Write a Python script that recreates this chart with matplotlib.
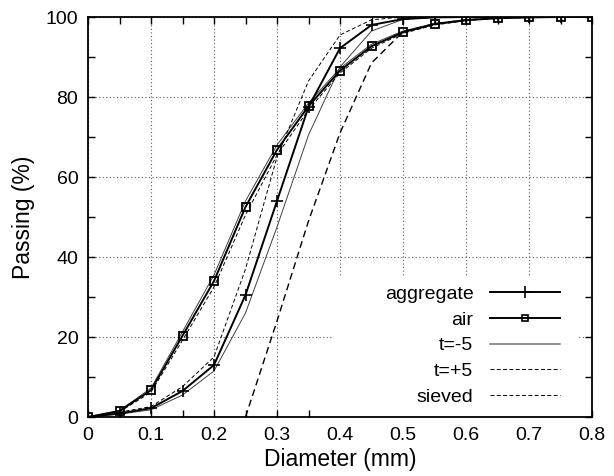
import matplotlib
matplotlib.use("Agg")
import matplotlib.pyplot as plt
from matplotlib.patches import Rectangle
from matplotlib.ticker import MultipleLocator

plt.rcParams['font.family'] = ['Liberation Sans', 'DejaVu Sans']

# ---- data ----
d_full = [0, 0.05, 0.1, 0.15, 0.2, 0.25, 0.3, 0.35, 0.4, 0.45, 0.5, 0.55, 0.6, 0.65, 0.7, 0.75, 0.8]
aggregate = [0, 0.9, 2.2, 6.5, 13, 30.5, 54, 77.5, 92.2, 98, 99.5, 99.9, 100, 100, 100, 100, 100]
air = [0, 1.5, 6.7, 20.3, 34, 52.5, 66.8, 77.7, 86.6, 92.7, 96.2, 98.2, 99.2, 99.7, 99.9, 100, 100]

agg_tm5 = [0, 0.7, 1.8, 5.5, 11.5, 26, 47.5, 70.5, 87.5, 96.5, 99.4, 99.9, 100, 100, 100, 100, 100]
agg_tp5 = [0, 1.2, 2.6, 7.6, 15, 37, 65, 84, 95.5, 99.3, 100, 100, 100, 100, 100, 100, 100]
air_tm5 = [0, 1.6, 7.2, 21.3, 35.5, 54, 68, 78.5, 87.2, 93.2, 96.5, 98.4, 99.3, 99.8, 99.9, 100, 100]
air_tp5 = [0, 1.3, 6.2, 19.2, 32.5, 50.5, 65.5, 76.8, 86.0, 92.2, 95.9, 98.0, 99.1, 99.7, 99.9, 100, 100]

d_sieved = [0.25, 0.3, 0.35, 0.4, 0.45, 0.5, 0.55, 0.6, 0.65, 0.7, 0.75, 0.8]
sieved = [0, 24, 49, 71, 88.5, 96.3, 98.3, 99.3, 99.7, 99.9, 100, 100]

x_ticks = [0, 0.1, 0.2, 0.3, 0.4, 0.5, 0.6, 0.7, 0.8]
x_ticklabels = ["0", "0.1", "0.2", "0.3", "0.4", "0.5", "0.6", "0.7", "0.8"]
y_ticks = [0, 20, 40, 60, 80, 100]

fig = plt.figure(figsize=(6.14, 4.76), dpi=100)
ax = fig.add_axes([88/614, 1-417/476, (592-88)/614, (417-17)/476])

ax.set_axisbelow(True)
ax.grid(True, which='major', linestyle=(0, (1, 2.2)), color='0.35', linewidth=0.8)

# white key box hiding the grid under the legend
ax.add_patch(Rectangle((0.389/0.8, 0.0), (0.776-0.389)/0.8, 0.352, transform=ax.transAxes,
                       facecolor='white', edgecolor='none', zorder=1))

thick = 1.4
thin = 0.7
ax.plot(d_full, agg_tm5, color='0.25', lw=thin, zorder=2)
ax.plot(d_full, air_tm5, color='0.25', lw=thin, zorder=2)
ax.plot(d_full, agg_tp5, color='black', lw=thin, ls=(0, (4, 2.5)), zorder=2)
ax.plot(d_full, air_tp5, color='black', lw=thin, ls=(0, (4, 2.5)), zorder=2)
ax.plot(d_sieved, sieved, color='black', lw=1.0, ls=(0, (5, 3)), zorder=2)
ax.plot(d_full, aggregate, color='black', lw=thick, marker='+', ms=8, mew=1.2, zorder=3)
ax.plot(d_full, air, color='black', lw=thick, marker='s', ms=5.5, mew=1.3,
        mfc='none', mec='black', zorder=3)

# legend handles
h1, = ax.plot([], [], color='black', lw=thick, marker='+', ms=8, mew=1.2)
h2, = ax.plot([], [], color='black', lw=thick, marker='s', ms=5, mew=1.2, mfc='none')
h3, = ax.plot([], [], color='0.5', lw=1.2)
h4, = ax.plot([], [], color='black', lw=thin, ls=(0, (4, 2.5)))
h5, = ax.plot([], [], color='black', lw=thin, ls=(0, (4, 2.5)))
leg = ax.legend([h1, h2, h3, h4, h5], ['aggregate', 'air', 't=-5', 't=+5', 'sieved'],
                markerfirst=False, frameon=False, loc='lower right',
                bbox_to_anchor=(0.975, -0.02), fontsize=14, handlelength=3.6,
                handletextpad=0.85, labelspacing=0.41, borderpad=0.5)

ax.set_xlim(0, 0.8)
ax.set_ylim(0, 100)
ax.set_xticks(x_ticks)
ax.set_xticklabels(x_ticklabels)
ax.set_yticks(y_ticks)
ax.xaxis.set_minor_locator(MultipleLocator(0.05))
ax.yaxis.set_minor_locator(MultipleLocator(10))
ax.tick_params(which='both', direction='in', top=True, right=True, labelsize=14, pad=7)
ax.tick_params(which='major', length=5, width=1)
ax.tick_params(which='minor', length=5, width=1)
for s in ax.spines.values():
    s.set_linewidth(1.3)

ax.set_xlabel('Diameter (mm)', fontsize=16.5, labelpad=3)
ax.set_ylabel('Passing (%)', fontsize=16.5, labelpad=8)

fig.savefig('out.png', dpi=100)
